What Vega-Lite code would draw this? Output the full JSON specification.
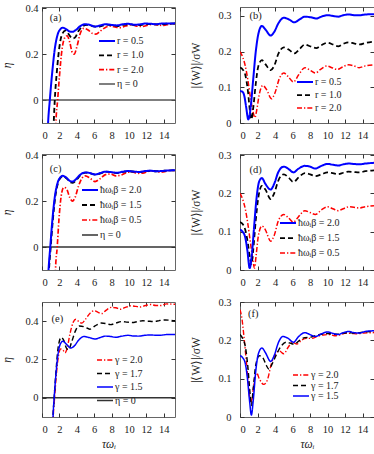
{
"$schema": "https://vega.github.io/schema/vega-lite/v6.json",
"padding": {"left": 1, "top": 2, "right": 0, "bottom": 0},
"background": "white",
"config": {
  "view": {"stroke": "#666", "strokeWidth": 1},
  "font": "Liberation Serif",
  "axis": {"domain": false, "grid": false, "tickSize": -4, "tickColor": "#333", "labelFont": "Liberation Serif", "labelFontSize": 10.5, "labelColor": "#222", "titleFont": "Liberation Serif", "titleFontSize": 11.5, "titleFontWeight": "normal", "titleColor": "#222", "titleFontStyle": "italic"},
  "axisX": {"labelPadding": 11, "titlePadding": 3},
  "axisY": {"labelPadding": 8, "titlePadding": 12},
  "legend": {"orient": "none", "title": null, "symbolType": "M-4,0H4", "symbolSize": 16, "labelFont": "Liberation Serif, DejaVu Serif", "labelFontSize": 10, "labelColor": "#222", "padding": 0, "labelOffset": 5},
  "text": {"font": "Liberation Serif", "fontSize": 10.5, "color": "#222", "align": "left", "baseline": "middle"}
},
"datasets": {
"a": [
{"s":"η = 0","t":0,"v":0},{"s":"η = 0","t":15.3,"v":0},
{"s":"r = 2.0","t":1.45,"v":-0.3},{"s":"r = 2.0","t":1.6,"v":-0.1},{"s":"r = 2.0","t":1.8,"v":0},{"s":"r = 2.0","t":2.0,"v":0.1},{"s":"r = 2.0","t":2.3,"v":0.22},{"s":"r = 2.0","t":2.6,"v":0.27},{"s":"r = 2.0","t":2.9,"v":0.28},{"s":"r = 2.0","t":3.2,"v":0.25},{"s":"r = 2.0","t":3.5,"v":0.205},{"s":"r = 2.0","t":3.7,"v":0.2},{"s":"r = 2.0","t":4.0,"v":0.23},{"s":"r = 2.0","t":4.4,"v":0.29},{"s":"r = 2.0","t":4.8,"v":0.312},{"s":"r = 2.0","t":5.3,"v":0.305},{"s":"r = 2.0","t":5.8,"v":0.29},{"s":"r = 2.0","t":6.2,"v":0.287},{"s":"r = 2.0","t":6.7,"v":0.3},{"s":"r = 2.0","t":7.3,"v":0.316},{"s":"r = 2.0","t":7.9,"v":0.322},{"s":"r = 2.0","t":8.5,"v":0.317},{"s":"r = 2.0","t":9.0,"v":0.315},{"s":"r = 2.0","t":9.6,"v":0.322},{"s":"r = 2.0","t":10.3,"v":0.328},{"s":"r = 2.0","t":10.9,"v":0.322},{"s":"r = 2.0","t":11.5,"v":0.32},{"s":"r = 2.0","t":12.2,"v":0.326},{"s":"r = 2.0","t":12.8,"v":0.33},{"s":"r = 2.0","t":13.4,"v":0.326},{"s":"r = 2.0","t":14.0,"v":0.325},{"s":"r = 2.0","t":14.6,"v":0.33},{"s":"r = 2.0","t":15.3,"v":0.332},
{"s":"r = 1.0","t":1.2,"v":-0.3},{"s":"r = 1.0","t":1.35,"v":-0.1},{"s":"r = 1.0","t":1.47,"v":0},{"s":"r = 1.0","t":1.7,"v":0.12},{"s":"r = 1.0","t":2.0,"v":0.23},{"s":"r = 1.0","t":2.3,"v":0.285},{"s":"r = 1.0","t":2.7,"v":0.302},{"s":"r = 1.0","t":3.1,"v":0.285},{"s":"r = 1.0","t":3.5,"v":0.268},{"s":"r = 1.0","t":3.8,"v":0.272},{"s":"r = 1.0","t":4.2,"v":0.3},{"s":"r = 1.0","t":4.7,"v":0.322},{"s":"r = 1.0","t":5.2,"v":0.327},{"s":"r = 1.0","t":5.8,"v":0.322},{"s":"r = 1.0","t":6.3,"v":0.318},{"s":"r = 1.0","t":6.9,"v":0.323},{"s":"r = 1.0","t":7.5,"v":0.328},{"s":"r = 1.0","t":8.1,"v":0.325},{"s":"r = 1.0","t":8.7,"v":0.322},{"s":"r = 1.0","t":9.3,"v":0.327},{"s":"r = 1.0","t":10.0,"v":0.33},{"s":"r = 1.0","t":10.6,"v":0.327},{"s":"r = 1.0","t":11.2,"v":0.326},{"s":"r = 1.0","t":11.9,"v":0.33},{"s":"r = 1.0","t":12.5,"v":0.331},{"s":"r = 1.0","t":13.2,"v":0.329},{"s":"r = 1.0","t":13.8,"v":0.33},{"s":"r = 1.0","t":14.4,"v":0.332},{"s":"r = 1.0","t":15.3,"v":0.333},
{"s":"r = 0.5","t":0.5,"v":-0.3},{"s":"r = 0.5","t":0.7,"v":-0.1},{"s":"r = 0.5","t":0.9,"v":0},{"s":"r = 0.5","t":1.2,"v":0.13},{"s":"r = 0.5","t":1.5,"v":0.23},{"s":"r = 0.5","t":1.8,"v":0.285},{"s":"r = 0.5","t":2.1,"v":0.308},{"s":"r = 0.5","t":2.4,"v":0.315},{"s":"r = 0.5","t":2.8,"v":0.308},{"s":"r = 0.5","t":3.2,"v":0.298},{"s":"r = 0.5","t":3.5,"v":0.297},{"s":"r = 0.5","t":3.9,"v":0.305},{"s":"r = 0.5","t":4.4,"v":0.322},{"s":"r = 0.5","t":5.0,"v":0.33},{"s":"r = 0.5","t":5.5,"v":0.327},{"s":"r = 0.5","t":6.1,"v":0.32},{"s":"r = 0.5","t":6.7,"v":0.325},{"s":"r = 0.5","t":7.3,"v":0.33},{"s":"r = 0.5","t":8.0,"v":0.327},{"s":"r = 0.5","t":8.6,"v":0.325},{"s":"r = 0.5","t":9.3,"v":0.33},{"s":"r = 0.5","t":9.9,"v":0.332},{"s":"r = 0.5","t":10.6,"v":0.328},{"s":"r = 0.5","t":11.2,"v":0.329},{"s":"r = 0.5","t":11.9,"v":0.333},{"s":"r = 0.5","t":12.5,"v":0.332},{"s":"r = 0.5","t":13.1,"v":0.33},{"s":"r = 0.5","t":13.8,"v":0.333},{"s":"r = 0.5","t":14.4,"v":0.333},{"s":"r = 0.5","t":15.3,"v":0.334}
],
"b": [
{"s":"r = 2.0","t":0,"v":0.2},{"s":"r = 2.0","t":0.3,"v":0.185},{"s":"r = 2.0","t":0.6,"v":0.16},{"s":"r = 2.0","t":0.9,"v":0.12},{"s":"r = 2.0","t":1.2,"v":0.07},{"s":"r = 2.0","t":1.5,"v":0.03},{"s":"r = 2.0","t":1.7,"v":0.015},{"s":"r = 2.0","t":1.9,"v":0.035},{"s":"r = 2.0","t":2.2,"v":0.08},{"s":"r = 2.0","t":2.6,"v":0.105},{"s":"r = 2.0","t":3.0,"v":0.095},{"s":"r = 2.0","t":3.6,"v":0.068},{"s":"r = 2.0","t":4.0,"v":0.085},{"s":"r = 2.0","t":4.5,"v":0.125},{"s":"r = 2.0","t":5.0,"v":0.14},{"s":"r = 2.0","t":5.5,"v":0.13},{"s":"r = 2.0","t":6.1,"v":0.115},{"s":"r = 2.0","t":6.7,"v":0.135},{"s":"r = 2.0","t":7.4,"v":0.155},{"s":"r = 2.0","t":8.0,"v":0.148},{"s":"r = 2.0","t":8.6,"v":0.14},{"s":"r = 2.0","t":9.2,"v":0.15},{"s":"r = 2.0","t":9.9,"v":0.16},{"s":"r = 2.0","t":10.5,"v":0.155},{"s":"r = 2.0","t":11.1,"v":0.15},{"s":"r = 2.0","t":11.7,"v":0.157},{"s":"r = 2.0","t":12.4,"v":0.163},{"s":"r = 2.0","t":13.0,"v":0.16},{"s":"r = 2.0","t":13.6,"v":0.155},{"s":"r = 2.0","t":14.3,"v":0.16},{"s":"r = 2.0","t":15.3,"v":0.163},
{"s":"r = 1.0","t":0,"v":0.155},{"s":"r = 1.0","t":0.3,"v":0.15},{"s":"r = 1.0","t":0.6,"v":0.135},{"s":"r = 1.0","t":0.9,"v":0.09},{"s":"r = 1.0","t":1.15,"v":0.03},{"s":"r = 1.0","t":1.3,"v":0.01},{"s":"r = 1.0","t":1.5,"v":0.04},{"s":"r = 1.0","t":1.8,"v":0.11},{"s":"r = 1.0","t":2.1,"v":0.16},{"s":"r = 1.0","t":2.5,"v":0.176},{"s":"r = 1.0","t":2.9,"v":0.165},{"s":"r = 1.0","t":3.5,"v":0.148},{"s":"r = 1.0","t":3.9,"v":0.16},{"s":"r = 1.0","t":4.4,"v":0.195},{"s":"r = 1.0","t":5.0,"v":0.212},{"s":"r = 1.0","t":5.6,"v":0.205},{"s":"r = 1.0","t":6.2,"v":0.195},{"s":"r = 1.0","t":6.8,"v":0.207},{"s":"r = 1.0","t":7.4,"v":0.22},{"s":"r = 1.0","t":8.0,"v":0.215},{"s":"r = 1.0","t":8.7,"v":0.21},{"s":"r = 1.0","t":9.3,"v":0.218},{"s":"r = 1.0","t":10.0,"v":0.225},{"s":"r = 1.0","t":10.6,"v":0.22},{"s":"r = 1.0","t":11.2,"v":0.215},{"s":"r = 1.0","t":11.8,"v":0.222},{"s":"r = 1.0","t":12.4,"v":0.226},{"s":"r = 1.0","t":13.0,"v":0.223},{"s":"r = 1.0","t":13.7,"v":0.22},{"s":"r = 1.0","t":14.3,"v":0.224},{"s":"r = 1.0","t":15.3,"v":0.228},
{"s":"r = 0.5","t":0,"v":0.09},{"s":"r = 0.5","t":0.3,"v":0.087},{"s":"r = 0.5","t":0.5,"v":0.075},{"s":"r = 0.5","t":0.7,"v":0.045},{"s":"r = 0.5","t":0.95,"v":0.01},{"s":"r = 0.5","t":1.2,"v":0.04},{"s":"r = 0.5","t":1.5,"v":0.12},{"s":"r = 0.5","t":1.8,"v":0.2},{"s":"r = 0.5","t":2.1,"v":0.25},{"s":"r = 0.5","t":2.5,"v":0.272},{"s":"r = 0.5","t":2.9,"v":0.262},{"s":"r = 0.5","t":3.5,"v":0.245},{"s":"r = 0.5","t":3.9,"v":0.255},{"s":"r = 0.5","t":4.4,"v":0.28},{"s":"r = 0.5","t":5.0,"v":0.295},{"s":"r = 0.5","t":5.6,"v":0.29},{"s":"r = 0.5","t":6.2,"v":0.282},{"s":"r = 0.5","t":6.8,"v":0.29},{"s":"r = 0.5","t":7.4,"v":0.298},{"s":"r = 0.5","t":8.1,"v":0.296},{"s":"r = 0.5","t":8.7,"v":0.293},{"s":"r = 0.5","t":9.4,"v":0.299},{"s":"r = 0.5","t":10.0,"v":0.302},{"s":"r = 0.5","t":10.6,"v":0.3},{"s":"r = 0.5","t":11.2,"v":0.298},{"s":"r = 0.5","t":11.8,"v":0.302},{"s":"r = 0.5","t":12.4,"v":0.304},{"s":"r = 0.5","t":13.1,"v":0.302},{"s":"r = 0.5","t":13.7,"v":0.302},{"s":"r = 0.5","t":14.3,"v":0.304},{"s":"r = 0.5","t":15.3,"v":0.305}
],
"c": [
{"s":"η = 0","t":0,"v":0},{"s":"η = 0","t":15.3,"v":0},
{"s":"ħωᵢβ = 0.5","t":1.4,"v":-0.3},{"s":"ħωᵢβ = 0.5","t":1.55,"v":-0.1},{"s":"ħωᵢβ = 0.5","t":1.75,"v":0},{"s":"ħωᵢβ = 0.5","t":1.95,"v":0.12},{"s":"ħωᵢβ = 0.5","t":2.2,"v":0.22},{"s":"ħωᵢβ = 0.5","t":2.5,"v":0.26},{"s":"ħωᵢβ = 0.5","t":2.8,"v":0.255},{"s":"ħωᵢβ = 0.5","t":3.2,"v":0.215},{"s":"ħωᵢβ = 0.5","t":3.5,"v":0.2},{"s":"ħωᵢβ = 0.5","t":3.8,"v":0.215},{"s":"ħωᵢβ = 0.5","t":4.2,"v":0.265},{"s":"ħωᵢβ = 0.5","t":4.6,"v":0.3},{"s":"ħωᵢβ = 0.5","t":5.0,"v":0.31},{"s":"ħωᵢβ = 0.5","t":5.5,"v":0.3},{"s":"ħωᵢβ = 0.5","t":6.1,"v":0.285},{"s":"ħωᵢβ = 0.5","t":6.7,"v":0.298},{"s":"ħωᵢβ = 0.5","t":7.3,"v":0.315},{"s":"ħωᵢβ = 0.5","t":7.9,"v":0.318},{"s":"ħωᵢβ = 0.5","t":8.5,"v":0.31},{"s":"ħωᵢβ = 0.5","t":9.1,"v":0.313},{"s":"ħωᵢβ = 0.5","t":9.8,"v":0.325},{"s":"ħωᵢβ = 0.5","t":10.4,"v":0.327},{"s":"ħωᵢβ = 0.5","t":11.0,"v":0.321},{"s":"ħωᵢβ = 0.5","t":11.6,"v":0.322},{"s":"ħωᵢβ = 0.5","t":12.3,"v":0.33},{"s":"ħωᵢβ = 0.5","t":12.9,"v":0.331},{"s":"ħωᵢβ = 0.5","t":13.5,"v":0.326},{"s":"ħωᵢβ = 0.5","t":14.1,"v":0.328},{"s":"ħωᵢβ = 0.5","t":14.7,"v":0.333},{"s":"ħωᵢβ = 0.5","t":15.3,"v":0.333},
{"s":"ħωᵢβ = 1.5","t":0.55,"v":-0.3},{"s":"ħωᵢβ = 1.5","t":0.8,"v":-0.1},{"s":"ħωᵢβ = 1.5","t":1.0,"v":0},{"s":"ħωᵢβ = 1.5","t":1.25,"v":0.12},{"s":"ħωᵢβ = 1.5","t":1.55,"v":0.225},{"s":"ħωᵢβ = 1.5","t":1.85,"v":0.28},{"s":"ħωᵢβ = 1.5","t":2.15,"v":0.302},{"s":"ħωᵢβ = 1.5","t":2.45,"v":0.308},{"s":"ħωᵢβ = 1.5","t":2.85,"v":0.298},{"s":"ħωᵢβ = 1.5","t":3.25,"v":0.282},{"s":"ħωᵢβ = 1.5","t":3.55,"v":0.28},{"s":"ħωᵢβ = 1.5","t":3.95,"v":0.292},{"s":"ħωᵢβ = 1.5","t":4.45,"v":0.314},{"s":"ħωᵢβ = 1.5","t":5.05,"v":0.324},{"s":"ħωᵢβ = 1.5","t":5.55,"v":0.321},{"s":"ħωᵢβ = 1.5","t":6.15,"v":0.315},{"s":"ħωᵢβ = 1.5","t":6.75,"v":0.321},{"s":"ħωᵢβ = 1.5","t":7.35,"v":0.328},{"s":"ħωᵢβ = 1.5","t":8.0,"v":0.326},{"s":"ħωᵢβ = 1.5","t":8.6,"v":0.322},{"s":"ħωᵢβ = 1.5","t":9.3,"v":0.327},{"s":"ħωᵢβ = 1.5","t":9.9,"v":0.33},{"s":"ħωᵢβ = 1.5","t":10.6,"v":0.328},{"s":"ħωᵢβ = 1.5","t":11.2,"v":0.326},{"s":"ħωᵢβ = 1.5","t":11.9,"v":0.33},{"s":"ħωᵢβ = 1.5","t":12.5,"v":0.332},{"s":"ħωᵢβ = 1.5","t":13.1,"v":0.33},{"s":"ħωᵢβ = 1.5","t":13.8,"v":0.331},{"s":"ħωᵢβ = 1.5","t":14.4,"v":0.333},{"s":"ħωᵢβ = 1.5","t":15.3,"v":0.334},
{"s":"ħωᵢβ = 2.0","t":0.5,"v":-0.3},{"s":"ħωᵢβ = 2.0","t":0.75,"v":-0.1},{"s":"ħωᵢβ = 2.0","t":0.95,"v":0},{"s":"ħωᵢβ = 2.0","t":1.2,"v":0.12},{"s":"ħωᵢβ = 2.0","t":1.5,"v":0.225},{"s":"ħωᵢβ = 2.0","t":1.8,"v":0.28},{"s":"ħωᵢβ = 2.0","t":2.1,"v":0.303},{"s":"ħωᵢβ = 2.0","t":2.4,"v":0.31},{"s":"ħωᵢβ = 2.0","t":2.8,"v":0.302},{"s":"ħωᵢβ = 2.0","t":3.2,"v":0.288},{"s":"ħωᵢβ = 2.0","t":3.5,"v":0.285},{"s":"ħωᵢβ = 2.0","t":3.9,"v":0.295},{"s":"ħωᵢβ = 2.0","t":4.4,"v":0.315},{"s":"ħωᵢβ = 2.0","t":5.0,"v":0.325},{"s":"ħωᵢβ = 2.0","t":5.5,"v":0.322},{"s":"ħωᵢβ = 2.0","t":6.1,"v":0.316},{"s":"ħωᵢβ = 2.0","t":6.7,"v":0.322},{"s":"ħωᵢβ = 2.0","t":7.3,"v":0.328},{"s":"ħωᵢβ = 2.0","t":8.0,"v":0.326},{"s":"ħωᵢβ = 2.0","t":8.6,"v":0.323},{"s":"ħωᵢβ = 2.0","t":9.3,"v":0.328},{"s":"ħωᵢβ = 2.0","t":9.9,"v":0.331},{"s":"ħωᵢβ = 2.0","t":10.6,"v":0.328},{"s":"ħωᵢβ = 2.0","t":11.2,"v":0.327},{"s":"ħωᵢβ = 2.0","t":11.9,"v":0.331},{"s":"ħωᵢβ = 2.0","t":12.5,"v":0.332},{"s":"ħωᵢβ = 2.0","t":13.1,"v":0.33},{"s":"ħωᵢβ = 2.0","t":13.8,"v":0.331},{"s":"ħωᵢβ = 2.0","t":14.4,"v":0.333},{"s":"ħωᵢβ = 2.0","t":15.3,"v":0.334}
],
"d": [
{"s":"ħωᵢβ = 0.5","t":0,"v":0.2},{"s":"ħωᵢβ = 0.5","t":0.3,"v":0.185},{"s":"ħωᵢβ = 0.5","t":0.6,"v":0.16},{"s":"ħωᵢβ = 0.5","t":0.9,"v":0.12},{"s":"ħωᵢβ = 0.5","t":1.2,"v":0.07},{"s":"ħωᵢβ = 0.5","t":1.45,"v":0.03},{"s":"ħωᵢβ = 0.5","t":1.65,"v":0.005},{"s":"ħωᵢβ = 0.5","t":1.85,"v":0.04},{"s":"ħωᵢβ = 0.5","t":2.1,"v":0.09},{"s":"ħωᵢβ = 0.5","t":2.5,"v":0.115},{"s":"ħωᵢβ = 0.5","t":2.9,"v":0.105},{"s":"ħωᵢβ = 0.5","t":3.5,"v":0.075},{"s":"ħωᵢβ = 0.5","t":3.9,"v":0.09},{"s":"ħωᵢβ = 0.5","t":4.4,"v":0.13},{"s":"ħωᵢβ = 0.5","t":5.0,"v":0.145},{"s":"ħωᵢβ = 0.5","t":5.5,"v":0.137},{"s":"ħωᵢβ = 0.5","t":6.1,"v":0.125},{"s":"ħωᵢβ = 0.5","t":6.7,"v":0.14},{"s":"ħωᵢβ = 0.5","t":7.4,"v":0.155},{"s":"ħωᵢβ = 0.5","t":8.0,"v":0.15},{"s":"ħωᵢβ = 0.5","t":8.6,"v":0.145},{"s":"ħωᵢβ = 0.5","t":9.3,"v":0.157},{"s":"ħωᵢβ = 0.5","t":10.0,"v":0.165},{"s":"ħωᵢβ = 0.5","t":10.6,"v":0.16},{"s":"ħωᵢβ = 0.5","t":11.2,"v":0.155},{"s":"ħωᵢβ = 0.5","t":11.8,"v":0.16},{"s":"ħωᵢβ = 0.5","t":12.4,"v":0.165},{"s":"ħωᵢβ = 0.5","t":13.0,"v":0.164},{"s":"ħωᵢβ = 0.5","t":13.6,"v":0.162},{"s":"ħωᵢβ = 0.5","t":14.3,"v":0.165},{"s":"ħωᵢβ = 0.5","t":15.3,"v":0.168},
{"s":"ħωᵢβ = 1.5","t":0,"v":0.125},{"s":"ħωᵢβ = 1.5","t":0.3,"v":0.12},{"s":"ħωᵢβ = 1.5","t":0.6,"v":0.105},{"s":"ħωᵢβ = 1.5","t":0.9,"v":0.07},{"s":"ħωᵢβ = 1.5","t":1.15,"v":0.03},{"s":"ħωᵢβ = 1.5","t":1.3,"v":0.015},{"s":"ħωᵢβ = 1.5","t":1.5,"v":0.05},{"s":"ħωᵢβ = 1.5","t":1.8,"v":0.13},{"s":"ħωᵢβ = 1.5","t":2.1,"v":0.19},{"s":"ħωᵢβ = 1.5","t":2.5,"v":0.22},{"s":"ħωᵢβ = 1.5","t":2.9,"v":0.21},{"s":"ħωᵢβ = 1.5","t":3.5,"v":0.185},{"s":"ħωᵢβ = 1.5","t":3.9,"v":0.2},{"s":"ħωᵢβ = 1.5","t":4.4,"v":0.235},{"s":"ħωᵢβ = 1.5","t":5.0,"v":0.25},{"s":"ħωᵢβ = 1.5","t":5.6,"v":0.24},{"s":"ħωᵢβ = 1.5","t":6.1,"v":0.23},{"s":"ħωᵢβ = 1.5","t":6.7,"v":0.242},{"s":"ħωᵢβ = 1.5","t":7.4,"v":0.253},{"s":"ħωᵢβ = 1.5","t":8.0,"v":0.25},{"s":"ħωᵢβ = 1.5","t":8.6,"v":0.245},{"s":"ħωᵢβ = 1.5","t":9.3,"v":0.25},{"s":"ħωᵢβ = 1.5","t":10.0,"v":0.255},{"s":"ħωᵢβ = 1.5","t":10.6,"v":0.253},{"s":"ħωᵢβ = 1.5","t":11.2,"v":0.25},{"s":"ħωᵢβ = 1.5","t":11.8,"v":0.254},{"s":"ħωᵢβ = 1.5","t":12.4,"v":0.257},{"s":"ħωᵢβ = 1.5","t":13.0,"v":0.256},{"s":"ħωᵢβ = 1.5","t":13.6,"v":0.255},{"s":"ħωᵢβ = 1.5","t":14.3,"v":0.258},{"s":"ħωᵢβ = 1.5","t":15.3,"v":0.26},
{"s":"ħωᵢβ = 2.0","t":0,"v":0.105},{"s":"ħωᵢβ = 2.0","t":0.3,"v":0.1},{"s":"ħωᵢβ = 2.0","t":0.6,"v":0.085},{"s":"ħωᵢβ = 2.0","t":0.85,"v":0.05},{"s":"ħωᵢβ = 2.0","t":1.1,"v":0.005},{"s":"ħωᵢβ = 2.0","t":1.35,"v":0.04},{"s":"ħωᵢβ = 2.0","t":1.6,"v":0.11},{"s":"ħωᵢβ = 2.0","t":1.9,"v":0.19},{"s":"ħωᵢβ = 2.0","t":2.2,"v":0.232},{"s":"ħωᵢβ = 2.0","t":2.5,"v":0.24},{"s":"ħωᵢβ = 2.0","t":2.9,"v":0.225},{"s":"ħωᵢβ = 2.0","t":3.5,"v":0.21},{"s":"ħωᵢβ = 2.0","t":3.9,"v":0.225},{"s":"ħωᵢβ = 2.0","t":4.4,"v":0.257},{"s":"ħωᵢβ = 2.0","t":5.0,"v":0.27},{"s":"ħωᵢβ = 2.0","t":5.6,"v":0.263},{"s":"ħωᵢβ = 2.0","t":6.1,"v":0.255},{"s":"ħωᵢβ = 2.0","t":6.7,"v":0.265},{"s":"ħωᵢβ = 2.0","t":7.4,"v":0.272},{"s":"ħωᵢβ = 2.0","t":8.0,"v":0.27},{"s":"ħωᵢβ = 2.0","t":8.6,"v":0.265},{"s":"ħωᵢβ = 2.0","t":9.3,"v":0.272},{"s":"ħωᵢβ = 2.0","t":10.0,"v":0.277},{"s":"ħωᵢβ = 2.0","t":10.6,"v":0.275},{"s":"ħωᵢβ = 2.0","t":11.2,"v":0.273},{"s":"ħωᵢβ = 2.0","t":11.8,"v":0.276},{"s":"ħωᵢβ = 2.0","t":12.4,"v":0.278},{"s":"ħωᵢβ = 2.0","t":13.0,"v":0.277},{"s":"ħωᵢβ = 2.0","t":13.6,"v":0.276},{"s":"ħωᵢβ = 2.0","t":14.3,"v":0.278},{"s":"ħωᵢβ = 2.0","t":15.3,"v":0.28}
],
"e": [
{"s":"η = 0","t":0,"v":0},{"s":"η = 0","t":15.3,"v":0},
{"s":"γ = 2.0","t":1.2,"v":-0.3},{"s":"γ = 2.0","t":1.3,"v":-0.1},{"s":"γ = 2.0","t":1.45,"v":0},{"s":"γ = 2.0","t":1.65,"v":0.12},{"s":"γ = 2.0","t":1.9,"v":0.22},{"s":"γ = 2.0","t":2.15,"v":0.255},{"s":"γ = 2.0","t":2.4,"v":0.25},{"s":"γ = 2.0","t":2.65,"v":0.235},{"s":"γ = 2.0","t":2.9,"v":0.26},{"s":"γ = 2.0","t":3.2,"v":0.33},{"s":"γ = 2.0","t":3.6,"v":0.395},{"s":"γ = 2.0","t":3.9,"v":0.41},{"s":"γ = 2.0","t":4.3,"v":0.395},{"s":"γ = 2.0","t":4.6,"v":0.39},{"s":"γ = 2.0","t":5.0,"v":0.41},{"s":"γ = 2.0","t":5.6,"v":0.445},{"s":"γ = 2.0","t":6.0,"v":0.455},{"s":"γ = 2.0","t":6.5,"v":0.445},{"s":"γ = 2.0","t":6.9,"v":0.44},{"s":"γ = 2.0","t":7.4,"v":0.458},{"s":"γ = 2.0","t":8.0,"v":0.472},{"s":"γ = 2.0","t":8.5,"v":0.47},{"s":"γ = 2.0","t":9.0,"v":0.462},{"s":"γ = 2.0","t":9.6,"v":0.472},{"s":"γ = 2.0","t":10.2,"v":0.48},{"s":"γ = 2.0","t":10.8,"v":0.477},{"s":"γ = 2.0","t":11.3,"v":0.474},{"s":"γ = 2.0","t":11.9,"v":0.482},{"s":"γ = 2.0","t":12.5,"v":0.487},{"s":"γ = 2.0","t":13.1,"v":0.482},{"s":"γ = 2.0","t":13.7,"v":0.482},{"s":"γ = 2.0","t":14.3,"v":0.49},{"s":"γ = 2.0","t":15.3,"v":0.488},
{"s":"γ = 1.7","t":1.15,"v":-0.3},{"s":"γ = 1.7","t":1.27,"v":-0.1},{"s":"γ = 1.7","t":1.4,"v":0},{"s":"γ = 1.7","t":1.6,"v":0.13},{"s":"γ = 1.7","t":1.85,"v":0.26},{"s":"γ = 1.7","t":2.2,"v":0.315},{"s":"γ = 1.7","t":2.5,"v":0.3},{"s":"γ = 1.7","t":2.8,"v":0.26},{"s":"γ = 1.7","t":3.05,"v":0.25},{"s":"γ = 1.7","t":3.4,"v":0.29},{"s":"γ = 1.7","t":3.9,"v":0.355},{"s":"γ = 1.7","t":4.3,"v":0.375},{"s":"γ = 1.7","t":4.9,"v":0.37},{"s":"γ = 1.7","t":5.5,"v":0.358},{"s":"γ = 1.7","t":6.1,"v":0.375},{"s":"γ = 1.7","t":6.8,"v":0.39},{"s":"γ = 1.7","t":7.4,"v":0.387},{"s":"γ = 1.7","t":7.9,"v":0.382},{"s":"γ = 1.7","t":8.5,"v":0.39},{"s":"γ = 1.7","t":9.2,"v":0.398},{"s":"γ = 1.7","t":9.8,"v":0.395},{"s":"γ = 1.7","t":10.4,"v":0.393},{"s":"γ = 1.7","t":11.0,"v":0.398},{"s":"γ = 1.7","t":11.6,"v":0.402},{"s":"γ = 1.7","t":12.2,"v":0.4},{"s":"γ = 1.7","t":12.9,"v":0.398},{"s":"γ = 1.7","t":13.5,"v":0.403},{"s":"γ = 1.7","t":14.2,"v":0.406},{"s":"γ = 1.7","t":15.3,"v":0.402},
{"s":"γ = 1.5","t":1.15,"v":-0.3},{"s":"γ = 1.5","t":1.27,"v":-0.1},{"s":"γ = 1.5","t":1.4,"v":0},{"s":"γ = 1.5","t":1.6,"v":0.12},{"s":"γ = 1.5","t":1.85,"v":0.23},{"s":"γ = 1.5","t":2.1,"v":0.28},{"s":"γ = 1.5","t":2.4,"v":0.295},{"s":"γ = 1.5","t":2.8,"v":0.28},{"s":"γ = 1.5","t":3.3,"v":0.26},{"s":"γ = 1.5","t":3.7,"v":0.27},{"s":"γ = 1.5","t":4.2,"v":0.3},{"s":"γ = 1.5","t":4.8,"v":0.32},{"s":"γ = 1.5","t":5.4,"v":0.315},{"s":"γ = 1.5","t":6.1,"v":0.307},{"s":"γ = 1.5","t":6.7,"v":0.315},{"s":"γ = 1.5","t":7.3,"v":0.322},{"s":"γ = 1.5","t":7.9,"v":0.32},{"s":"γ = 1.5","t":8.5,"v":0.316},{"s":"γ = 1.5","t":9.2,"v":0.322},{"s":"γ = 1.5","t":9.9,"v":0.326},{"s":"γ = 1.5","t":10.5,"v":0.323},{"s":"γ = 1.5","t":11.1,"v":0.322},{"s":"γ = 1.5","t":11.8,"v":0.326},{"s":"γ = 1.5","t":12.4,"v":0.328},{"s":"γ = 1.5","t":13.0,"v":0.327},{"s":"γ = 1.5","t":13.7,"v":0.327},{"s":"γ = 1.5","t":14.3,"v":0.33},{"s":"γ = 1.5","t":15.3,"v":0.331}
],
"f": [
{"s":"γ = 2.0","t":0,"v":0.28},{"s":"γ = 2.0","t":0.2,"v":0.26},{"s":"γ = 2.0","t":0.45,"v":0.21},{"s":"γ = 2.0","t":0.7,"v":0.15},{"s":"γ = 2.0","t":0.95,"v":0.09},{"s":"γ = 2.0","t":1.2,"v":0.04},{"s":"γ = 2.0","t":1.35,"v":0.045},{"s":"γ = 2.0","t":1.6,"v":0.09},{"s":"γ = 2.0","t":1.9,"v":0.115},{"s":"γ = 2.0","t":2.2,"v":0.1},{"s":"γ = 2.0","t":2.7,"v":0.085},{"s":"γ = 2.0","t":3.1,"v":0.095},{"s":"γ = 2.0","t":3.6,"v":0.14},{"s":"γ = 2.0","t":4.1,"v":0.165},{"s":"γ = 2.0","t":4.5,"v":0.172},{"s":"γ = 2.0","t":5.0,"v":0.165},{"s":"γ = 2.0","t":5.5,"v":0.182},{"s":"γ = 2.0","t":6.0,"v":0.195},{"s":"γ = 2.0","t":6.5,"v":0.19},{"s":"γ = 2.0","t":7.0,"v":0.2},{"s":"γ = 2.0","t":7.6,"v":0.205},{"s":"γ = 2.0","t":8.2,"v":0.205},{"s":"γ = 2.0","t":8.8,"v":0.21},{"s":"γ = 2.0","t":9.5,"v":0.214},{"s":"γ = 2.0","t":10.2,"v":0.215},{"s":"γ = 2.0","t":10.8,"v":0.212},{"s":"γ = 2.0","t":11.4,"v":0.214},{"s":"γ = 2.0","t":12.1,"v":0.219},{"s":"γ = 2.0","t":12.8,"v":0.218},{"s":"γ = 2.0","t":13.4,"v":0.217},{"s":"γ = 2.0","t":14.1,"v":0.219},{"s":"γ = 2.0","t":15.3,"v":0.22},
{"s":"γ = 1.7","t":0,"v":0.215},{"s":"γ = 1.7","t":0.3,"v":0.205},{"s":"γ = 1.7","t":0.6,"v":0.185},{"s":"γ = 1.7","t":0.9,"v":0.13},{"s":"γ = 1.7","t":1.15,"v":0.06},{"s":"γ = 1.7","t":1.3,"v":0.03},{"s":"γ = 1.7","t":1.5,"v":0.07},{"s":"γ = 1.7","t":1.8,"v":0.135},{"s":"γ = 1.7","t":2.2,"v":0.16},{"s":"γ = 1.7","t":2.6,"v":0.155},{"s":"γ = 1.7","t":3.0,"v":0.135},{"s":"γ = 1.7","t":3.3,"v":0.125},{"s":"γ = 1.7","t":3.7,"v":0.14},{"s":"γ = 1.7","t":4.2,"v":0.165},{"s":"γ = 1.7","t":4.7,"v":0.185},{"s":"γ = 1.7","t":5.3,"v":0.195},{"s":"γ = 1.7","t":5.8,"v":0.192},{"s":"γ = 1.7","t":6.2,"v":0.19},{"s":"γ = 1.7","t":6.8,"v":0.2},{"s":"γ = 1.7","t":7.4,"v":0.207},{"s":"γ = 1.7","t":8.0,"v":0.208},{"s":"γ = 1.7","t":8.6,"v":0.212},{"s":"γ = 1.7","t":9.3,"v":0.216},{"s":"γ = 1.7","t":10.0,"v":0.218},{"s":"γ = 1.7","t":10.6,"v":0.216},{"s":"γ = 1.7","t":11.2,"v":0.216},{"s":"γ = 1.7","t":11.8,"v":0.219},{"s":"γ = 1.7","t":12.4,"v":0.22},{"s":"γ = 1.7","t":13.0,"v":0.219},{"s":"γ = 1.7","t":13.7,"v":0.22},{"s":"γ = 1.7","t":14.3,"v":0.222},{"s":"γ = 1.7","t":15.3,"v":0.223},
{"s":"γ = 1.5","t":0,"v":0.16},{"s":"γ = 1.5","t":0.3,"v":0.155},{"s":"γ = 1.5","t":0.6,"v":0.14},{"s":"γ = 1.5","t":0.85,"v":0.1},{"s":"γ = 1.5","t":1.1,"v":0.04},{"s":"γ = 1.5","t":1.3,"v":0.005},{"s":"γ = 1.5","t":1.5,"v":0.04},{"s":"γ = 1.5","t":1.8,"v":0.12},{"s":"γ = 1.5","t":2.1,"v":0.165},{"s":"γ = 1.5","t":2.5,"v":0.18},{"s":"γ = 1.5","t":2.9,"v":0.168},{"s":"γ = 1.5","t":3.5,"v":0.145},{"s":"γ = 1.5","t":3.9,"v":0.16},{"s":"γ = 1.5","t":4.4,"v":0.195},{"s":"γ = 1.5","t":4.9,"v":0.21},{"s":"γ = 1.5","t":5.5,"v":0.205},{"s":"γ = 1.5","t":6.1,"v":0.195},{"s":"γ = 1.5","t":6.7,"v":0.21},{"s":"γ = 1.5","t":7.4,"v":0.22},{"s":"γ = 1.5","t":8.0,"v":0.215},{"s":"γ = 1.5","t":8.6,"v":0.21},{"s":"γ = 1.5","t":9.3,"v":0.217},{"s":"γ = 1.5","t":10.0,"v":0.222},{"s":"γ = 1.5","t":10.6,"v":0.218},{"s":"γ = 1.5","t":11.2,"v":0.215},{"s":"γ = 1.5","t":11.8,"v":0.22},{"s":"γ = 1.5","t":12.4,"v":0.223},{"s":"γ = 1.5","t":13.0,"v":0.22},{"s":"γ = 1.5","t":13.6,"v":0.219},{"s":"γ = 1.5","t":14.3,"v":0.223},{"s":"γ = 1.5","t":15.3,"v":0.225}
]
},
"columns": 2,
"align": "each",
"spacing": {"row": 8, "column": 14},
"resolve": {"scale": {"x": "independent", "y": "independent", "color": "independent", "strokeDash": "independent", "strokeWidth": "independent"}, "legend": {"color": "independent", "strokeDash": "independent", "strokeWidth": "independent"}},
"concat": [
{
 "width": 133, "height": 116,
 "resolve": {"axis": {"x": "independent", "y": "independent"}},
 "layer": [
  {"data": {"name": "a"}, "mark": {"type": "line", "clip": true, "interpolate": "monotone"},
   "encoding": {
    "x": {"field": "t", "type": "quantitative", "scale": {"domain": [0, 15.3], "nice": false, "zero": false}, "axis": {"values": [0,2,4,6,8,10,12,14], "format": "d", "title": null}},
    "y": {"field": "v", "type": "quantitative", "scale": {"domain": [-0.1, 0.405], "nice": false}, "axis": {"values": [0, 0.2, 0.4], "format": "~g", "title": "η"}},
    "color": {"field": "s", "type": "nominal", "scale": {"domain": ["r = 0.5","r = 1.0","r = 2.0","η = 0"], "range": ["#0000ff","#000000","#ff0000","#555555"]}, "legend": {"legendX": 60, "legendY": 29, "rowPadding": 4.3}},
    "strokeDash": {"field": "s", "type": "nominal", "scale": {"domain": ["r = 0.5","r = 1.0","r = 2.0","η = 0"], "range": [[1,0],[5,3],[5,2,1.3,2],[1,0]]}},
    "strokeWidth": {"field": "s", "type": "ordinal", "scale": {"domain": ["r = 0.5","r = 1.0","r = 2.0","η = 0"], "range": [2,1.5,1.4,0.8]}}
   }},
  {"data": {"values": [{"t": 0.9, "v": 0.355, "l": "(a)"}]}, "mark": "text",
   "encoding": {
    "x": {"field": "t", "type": "quantitative", "axis": {"orient": "top", "values": [0,2,4,6,8,10,12,14], "labels": false, "title": null}},
    "y": {"field": "v", "type": "quantitative", "axis": {"orient": "right", "values": [0, 0.2, 0.4], "labels": false, "title": null}},
    "text": {"field": "l"}}}
 ]
},
{
 "width": 134, "height": 116,
 "resolve": {"axis": {"x": "independent", "y": "independent"}},
 "layer": [
  {"data": {"name": "b"}, "mark": {"type": "line", "clip": true, "interpolate": "monotone"},
   "encoding": {
    "x": {"field": "t", "type": "quantitative", "scale": {"domain": [0, 15.3], "nice": false, "zero": false}, "axis": {"values": [0,2,4,6,8,10,12,14], "format": "d", "title": null}},
    "y": {"field": "v", "type": "quantitative", "scale": {"domain": [0, 0.325], "nice": false}, "axis": {"values": [0, 0.1, 0.2, 0.3], "format": "~g", "title": "|⟨W⟩|/σW", "titleFontStyle": "normal", "labelPadding": 13, "titlePadding": 16}},
    "color": {"field": "s", "type": "nominal", "scale": {"domain": ["r = 0.5","r = 1.0","r = 2.0"], "range": ["#0000ff","#000000","#ff0000"]}, "legend": {"legendX": 60, "legendY": 70, "rowPadding": 3}},
    "strokeDash": {"field": "s", "type": "nominal", "scale": {"domain": ["r = 0.5","r = 1.0","r = 2.0"], "range": [[1,0],[5,3],[5,2,1.3,2]]}},
    "strokeWidth": {"field": "s", "type": "ordinal", "scale": {"domain": ["r = 0.5","r = 1.0","r = 2.0"], "range": [2,1.5,1.4]}}
   }},
  {"data": {"values": [{"t": 1.08, "v": 0.3, "l": "(b)"}]}, "mark": "text",
   "encoding": {
    "x": {"field": "t", "type": "quantitative", "axis": {"orient": "top", "values": [0,2,4,6,8,10,12,14], "labels": false, "title": null}},
    "y": {"field": "v", "type": "quantitative", "axis": {"orient": "right", "values": [0, 0.1, 0.2, 0.3], "labels": false, "title": null}},
    "text": {"field": "l"}}}
 ]
},
{
 "width": 133, "height": 116,
 "resolve": {"axis": {"x": "independent", "y": "independent"}},
 "layer": [
  {"data": {"name": "c"}, "mark": {"type": "line", "clip": true, "interpolate": "monotone"},
   "encoding": {
    "x": {"field": "t", "type": "quantitative", "scale": {"domain": [0, 15.3], "nice": false, "zero": false}, "axis": {"values": [0,2,4,6,8,10,12,14], "format": "d", "title": null}},
    "y": {"field": "v", "type": "quantitative", "scale": {"domain": [-0.1, 0.405], "nice": false}, "axis": {"values": [0, 0.2, 0.4], "format": "~g", "title": "η"}},
    "color": {"field": "s", "type": "nominal", "scale": {"domain": ["ħωᵢβ = 2.0","ħωᵢβ = 1.5","ħωᵢβ = 0.5","η = 0"], "range": ["#0000ff","#000000","#ff0000","#333333"]}, "legend": {"legendX": 43, "legendY": 31, "rowPadding": 5}},
    "strokeDash": {"field": "s", "type": "nominal", "scale": {"domain": ["ħωᵢβ = 2.0","ħωᵢβ = 1.5","ħωᵢβ = 0.5","η = 0"], "range": [[1,0],[5,3],[5,2,1.3,2],[1,0]]}},
    "strokeWidth": {"field": "s", "type": "ordinal", "scale": {"domain": ["ħωᵢβ = 2.0","ħωᵢβ = 1.5","ħωᵢβ = 0.5","η = 0"], "range": [2,1.5,1.4,0.8]}}
   }},
  {"data": {"values": [{"t": 0.9, "v": 0.34, "l": "(c)"}]}, "mark": "text",
   "encoding": {
    "x": {"field": "t", "type": "quantitative", "axis": {"orient": "top", "values": [0,2,4,6,8,10,12,14], "labels": false, "title": null}},
    "y": {"field": "v", "type": "quantitative", "axis": {"orient": "right", "values": [0, 0.2, 0.4], "labels": false, "title": null}},
    "text": {"field": "l"}}}
 ]
},
{
 "width": 134, "height": 116,
 "resolve": {"axis": {"x": "independent", "y": "independent"}},
 "layer": [
  {"data": {"name": "d"}, "mark": {"type": "line", "clip": true, "interpolate": "monotone"},
   "encoding": {
    "x": {"field": "t", "type": "quantitative", "scale": {"domain": [0, 15.3], "nice": false, "zero": false}, "axis": {"values": [0,2,4,6,8,10,12,14], "format": "d", "title": null}},
    "y": {"field": "v", "type": "quantitative", "scale": {"domain": [0, 0.303], "nice": false}, "axis": {"values": [0, 0.1, 0.2, 0.3], "format": "~g", "title": "|⟨W⟩|/σW", "titleFontStyle": "normal", "labelPadding": 13, "titlePadding": 16}},
    "color": {"field": "s", "type": "nominal", "scale": {"domain": ["ħωᵢβ = 2.0","ħωᵢβ = 1.5","ħωᵢβ = 0.5"], "range": ["#0000ff","#000000","#ff0000"]}, "legend": {"legendX": 43, "legendY": 64, "rowPadding": 5}},
    "strokeDash": {"field": "s", "type": "nominal", "scale": {"domain": ["ħωᵢβ = 2.0","ħωᵢβ = 1.5","ħωᵢβ = 0.5"], "range": [[1,0],[5,3],[5,2,1.3,2]]}},
    "strokeWidth": {"field": "s", "type": "ordinal", "scale": {"domain": ["ħωᵢβ = 2.0","ħωᵢβ = 1.5","ħωᵢβ = 0.5"], "range": [2,1.5,1.4]}}
   }},
  {"data": {"values": [{"t": 1.08, "v": 0.262, "l": "(d)"}]}, "mark": "text",
   "encoding": {
    "x": {"field": "t", "type": "quantitative", "axis": {"orient": "top", "values": [0,2,4,6,8,10,12,14], "labels": false, "title": null}},
    "y": {"field": "v", "type": "quantitative", "axis": {"orient": "right", "values": [0, 0.1, 0.2, 0.3], "labels": false, "title": null}},
    "text": {"field": "l"}}}
 ]
},
{
 "width": 133, "height": 115,
 "resolve": {"axis": {"x": "independent", "y": "independent"}},
 "layer": [
  {"data": {"name": "e"}, "mark": {"type": "line", "clip": true, "interpolate": "monotone"},
   "encoding": {
    "x": {"field": "t", "type": "quantitative", "scale": {"domain": [0, 15.3], "nice": false, "zero": false}, "axis": {"values": [0,2,4,6,8,10,12,14], "format": "d", "title": "τωᵢ", "titlePadding": 4}},
    "y": {"field": "v", "type": "quantitative", "scale": {"domain": [-0.1, 0.5], "nice": false}, "axis": {"values": [0, 0.2, 0.4], "format": "~g", "title": "η"}},
    "color": {"field": "s", "type": "nominal", "scale": {"domain": ["γ = 2.0","γ = 1.7","γ = 1.5","η = 0"], "range": ["#ff0000","#000000","#0000ff","#333333"]}, "legend": {"legendX": 58, "legendY": 53, "rowPadding": 3.5}},
    "strokeDash": {"field": "s", "type": "nominal", "scale": {"domain": ["γ = 2.0","γ = 1.7","γ = 1.5","η = 0"], "range": [[5,2,1.3,2],[5,3],[1,0],[1,0]]}},
    "strokeWidth": {"field": "s", "type": "ordinal", "scale": {"domain": ["γ = 2.0","γ = 1.7","γ = 1.5","η = 0"], "range": [1.4,1.5,2,0.8]}}
   }},
  {"data": {"values": [{"t": 1.1, "v": 0.412, "l": "(e)"}]}, "mark": "text",
   "encoding": {
    "x": {"field": "t", "type": "quantitative", "axis": {"orient": "top", "values": [0,2,4,6,8,10,12,14], "labels": false, "title": null}},
    "y": {"field": "v", "type": "quantitative", "axis": {"orient": "right", "values": [0, 0.2, 0.4], "labels": false, "title": null}},
    "text": {"field": "l"}}}
 ]
},
{
 "width": 134, "height": 115,
 "resolve": {"axis": {"x": "independent", "y": "independent"}},
 "layer": [
  {"data": {"name": "f"}, "mark": {"type": "line", "clip": true, "interpolate": "monotone"},
   "encoding": {
    "x": {"field": "t", "type": "quantitative", "scale": {"domain": [0, 15.3], "nice": false, "zero": false}, "axis": {"values": [0,2,4,6,8,10,12,14], "format": "d", "title": "τωᵢ", "titlePadding": 4}},
    "y": {"field": "v", "type": "quantitative", "scale": {"domain": [0, 0.3], "nice": false}, "axis": {"values": [0, 0.1, 0.2, 0.3], "format": "~g", "title": "|⟨W⟩|/σW", "titleFontStyle": "normal", "labelPadding": 13, "titlePadding": 16}},
    "color": {"field": "s", "type": "nominal", "scale": {"domain": ["γ = 2.0","γ = 1.7","γ = 1.5"], "range": ["#ff0000","#000000","#0000ff"]}, "legend": {"legendX": 56, "legendY": 68, "rowPadding": 0.5}},
    "strokeDash": {"field": "s", "type": "nominal", "scale": {"domain": ["γ = 2.0","γ = 1.7","γ = 1.5"], "range": [[5,2,1.3,2],[5,3],[1,0]]}},
    "strokeWidth": {"field": "s", "type": "ordinal", "scale": {"domain": ["γ = 2.0","γ = 1.7","γ = 1.5"], "range": [1.4,1.5,2]}}
   }},
  {"data": {"values": [{"t": 0.9, "v": 0.27, "l": "(f)"}]}, "mark": "text",
   "encoding": {
    "x": {"field": "t", "type": "quantitative", "axis": {"orient": "top", "values": [0,2,4,6,8,10,12,14], "labels": false, "title": null}},
    "y": {"field": "v", "type": "quantitative", "axis": {"orient": "right", "values": [0, 0.1, 0.2, 0.3], "labels": false, "title": null}},
    "text": {"field": "l"}}}
 ]
}
]
}
